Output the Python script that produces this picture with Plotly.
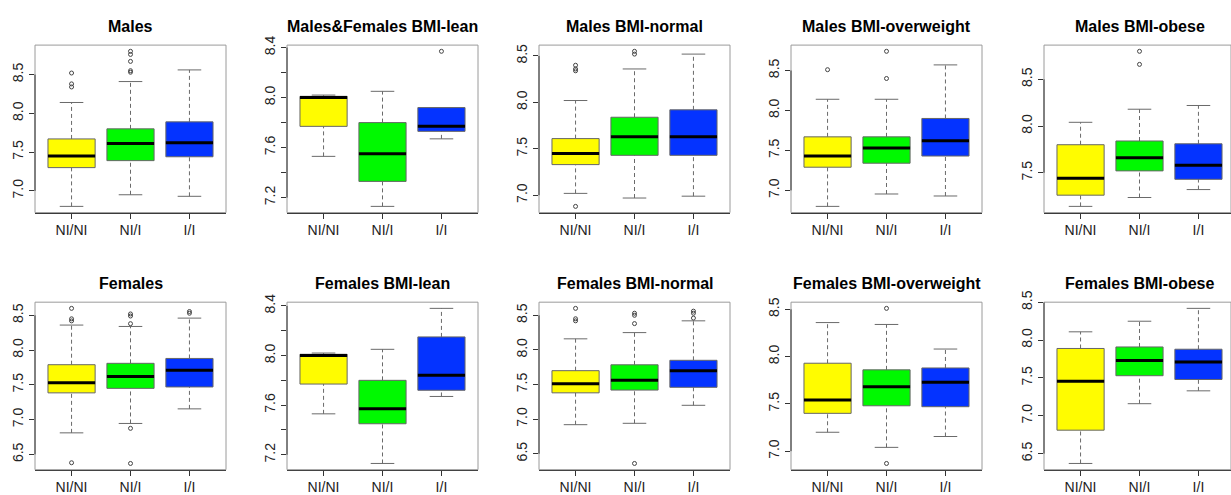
import math
import plotly.graph_objects as go

CATEGORIES = ["NI/NI", "NI/I", "I/I"]
TITLES = ["Males", "Males&Females BMI-lean", "Males BMI-normal", "Males BMI-overweight",
          "Males BMI-obese", "Females", "Females BMI-lean", "Females BMI-normal",
          "Females BMI-overweight", "Females BMI-obese"]

# each row: [lower whisker, Q1, median, Q3, upper whisker] for NI/NI, NI/I, I/I
MALES_BOX = [[6.80, 7.30, 7.45, 7.67, 8.14], [6.95, 7.39, 7.61, 7.80, 8.41], [6.93, 7.44, 7.62, 7.89, 8.56]]
MALES_OUT = [[8.52, 8.38, 8.34], [8.80, 8.76, 8.67, 8.55, 8.53], []]
MF_LEAN_BOX = [[7.53, 7.77, 8.00, 8.01, 8.02], [7.13, 7.33, 7.55, 7.80, 8.05], [7.67, 7.73, 7.77, 7.92, 7.92]]
MF_LEAN_OUT = [[], [], [8.37]]
M_NORMAL_BOX = [[7.02, 7.33, 7.45, 7.61, 8.02], [6.97, 7.43, 7.63, 7.84, 8.36], [6.99, 7.43, 7.63, 7.92, 8.52]]
M_NORMAL_OUT = [[6.88, 8.40, 8.36, 8.34], [8.55, 8.52], []]
M_OVER_BOX = [[6.80, 7.29, 7.43, 7.67, 8.14], [6.955, 7.34, 7.53, 7.67, 8.14], [6.93, 7.43, 7.62, 7.90, 8.57]]
M_OVER_OUT = [[8.51], [8.74, 8.40], []]
M_OBESE_BOX = [[7.14, 7.26, 7.44, 7.80, 8.04], [7.235, 7.52, 7.66, 7.84, 8.18], [7.32, 7.43, 7.58, 7.81, 8.22]]
M_OBESE_OUT = [[], [8.80, 8.66], []]
FEMALES_BOX = [[6.81, 7.385, 7.53, 7.79, 8.36], [6.945, 7.45, 7.62, 7.81, 8.34], [7.155, 7.47, 7.71, 7.88, 8.46]]
FEMALES_OUT = [[8.60, 8.45, 8.42, 6.38], [8.52, 8.49, 8.38, 6.875, 6.37], [8.555, 8.53]]
F_LEAN_BOX = [[7.53, 7.77, 8.00, 8.01, 8.02], [7.13, 7.45, 7.57, 7.80, 8.05], [7.67, 7.72, 7.84, 8.15, 8.38]]
F_LEAN_OUT = [[], [], []]
F_NORMAL_BOX = [[6.92, 7.38, 7.51, 7.70, 8.16], [6.94, 7.42, 7.56, 7.785, 8.25], [7.20, 7.46, 7.70, 7.85, 8.42]]
F_NORMAL_OUT = [[8.60, 8.45, 8.42], [8.53, 8.50, 8.38, 6.36], [8.56, 8.53, 8.46]]
F_OVER_BOX = [[7.20, 7.40, 7.54, 7.93, 8.36], [7.04, 7.48, 7.68, 7.86, 8.34], [7.155, 7.47, 7.73, 7.88, 8.08]]
F_OVER_OUT = [[], [8.51, 6.87], []]
F_OBESE_BOX = [[6.37, 6.81, 7.455, 7.89, 8.11], [7.16, 7.53, 7.73, 7.91, 8.25], [7.33, 7.48, 7.71, 7.88, 8.42]]
F_OBESE_OUT = [[], [], []]

PANELS = [
    (MALES_BOX, MALES_OUT), (MF_LEAN_BOX, MF_LEAN_OUT), (M_NORMAL_BOX, M_NORMAL_OUT),
    (M_OVER_BOX, M_OVER_OUT), (M_OBESE_BOX, M_OBESE_OUT), (FEMALES_BOX, FEMALES_OUT),
    (F_LEAN_BOX, F_LEAN_OUT), (F_NORMAL_BOX, F_NORMAL_OUT), (F_OVER_BOX, F_OVER_OUT),
    (F_OBESE_BOX, F_OBESE_OUT),
]

# ---- styling / layout ----
W, H = 1231, 495
COL_LEFT = [35, 287, 539, 791, 1044]
ROW_TOP = [34, 298]
TITLE_Y = [15, 279]
PLOT_W, PLOT_H = 191, 172
TICK_STEP = [0.5, 0.2, 0.5, 0.5, 0.5, 0.5, 0.2, 0.5, 0.5, 0.5]
LABEL_EVERY = [1, 2, 1, 1, 1, 1, 2, 1, 1, 1]
COLORS = ["#FFFC00", "#00F900", "#0433FF"]
FONT = "Liberation Sans, Arial, sans-serif"
BOXW = 0.4
CAPW = 0.2

fig = go.Figure()
shapes = []
annotations = []
layout = {}

for p, (box, out) in enumerate(PANELS):
    n = p + 1
    xa = "x" if n == 1 else f"x{n}"
    ya = "y" if n == 1 else f"y{n}"
    row, col = divmod(p, 5)
    left = COL_LEFT[col]
    right = min(left + PLOT_W, W)
    top = ROW_TOP[row]
    bottom = top + PLOT_H

    for i, (stats, outs) in enumerate(zip(box, out)):
        xc = i + 1
        lo, q1, med, q3, hi = stats
        fig.add_trace(go.Scatter(
            x=[xc, xc, None, xc, xc], y=[lo, q1, None, q3, hi], mode="lines",
            line=dict(color="#6a6a6a", width=1, dash="4px,3px"),
            xaxis=xa, yaxis=ya, showlegend=False, hoverinfo="skip"))
        fig.add_trace(go.Scatter(
            x=[xc - BOXW, xc + BOXW, xc + BOXW, xc - BOXW, xc - BOXW],
            y=[q1, q1, q3, q3, q1], mode="lines", fill="toself",
            fillcolor=COLORS[i], line=dict(color="#666", width=1),
            xaxis=xa, yaxis=ya, showlegend=False, hoverinfo="skip"))
        fig.add_trace(go.Scatter(
            x=[xc - BOXW, xc + BOXW], y=[med, med], mode="lines",
            line=dict(color="black", width=3),
            xaxis=xa, yaxis=ya, showlegend=False, hoverinfo="skip"))
        fig.add_trace(go.Scatter(
            x=[xc - CAPW, xc + CAPW, None, xc - CAPW, xc + CAPW],
            y=[lo, lo, None, hi, hi], mode="lines",
            line=dict(color="#6a6a6a", width=1),
            xaxis=xa, yaxis=ya, showlegend=False, hoverinfo="skip"))
        if outs:
            fig.add_trace(go.Scatter(
                x=[xc] * len(outs), y=outs, mode="markers",
                marker=dict(symbol="circle-open", size=4, color="#444",
                            line=dict(width=1, color="#444")),
                xaxis=xa, yaxis=ya, showlegend=False, hoverinfo="skip"))

    # R-like ranges: data range extended by 4 %
    allv = [v for s in box for v in s] + [v for o in out for v in o]
    vmin, vmax = min(allv), max(allv)
    ext = (vmax - vmin) * 0.04
    ylo, yhi = vmin - ext, vmax + ext
    xlo, xhi = 0.5 - 0.12, 3.5 + 0.12
    xhi_vis = xlo + (xhi - xlo) * (right - left) / PLOT_W

    step = TICK_STEP[p]
    t0 = math.ceil(ylo / step - 1e-9)
    t1 = math.floor(yhi / step + 1e-9)
    tickvals = [round(k * step, 4) for k in range(t0, t1 + 1)]
    ticktext = [f"{v:.1f}" if j % LABEL_EVERY[p] == 0 else "" for j, v in enumerate(tickvals)]

    layout["xaxis" if n == 1 else f"xaxis{n}"] = dict(
        domain=[left / W, right / W], range=[xlo, xhi_vis], anchor=ya,
        tickvals=[1, 2, 3], ticktext=CATEGORIES, ticks="outside", ticklen=5,
        tickcolor="#333", tickwidth=1, showline=True, linecolor="#333", linewidth=1,
        showgrid=False, zeroline=False, fixedrange=True,
        tickfont=dict(family=FONT, size=14, color="#222"))
    layout["yaxis" if n == 1 else f"yaxis{n}"] = dict(
        domain=[1 - bottom / H, 1 - top / H], range=[ylo, yhi], anchor=xa,
        tickvals=tickvals, ticktext=ticktext, tickangle=-90, ticks="outside",
        ticklen=5, tickcolor="#333", tickwidth=1, showline=False,
        showgrid=False, zeroline=False, fixedrange=True,
        tickfont=dict(family=FONT, size=14, color="#222"))

    # grey frame
    shapes.append(dict(type="rect", xref=f"{xa} domain", yref=f"{ya} domain",
                       x0=0, x1=1, y0=0, y1=1, line=dict(color="#9a9a9a", width=1),
                       layer="above"))
    # dark left axis line spanning tick range (R style)
    shapes.append(dict(type="line", xref=f"{xa} domain", yref=ya,
                       x0=0, x1=0, y0=tickvals[0], y1=tickvals[-1],
                       line=dict(color="#333", width=1), layer="above"))

    annotations.append(dict(
        text=f"<b>{TITLES[p]}</b>", xref="paper", yref="paper",
        x=(left + PLOT_W / 2) / W, y=1 - TITLE_Y[row] / H,
        xanchor="center", yanchor="middle", showarrow=False,
        font=dict(family=FONT, size=16, color="black")))

fig.update_layout(
    width=W, height=H, margin=dict(l=0, r=0, t=0, b=0),
    paper_bgcolor="white", plot_bgcolor="white", showlegend=False,
    shapes=shapes, annotations=annotations, **layout)

fig.write_html("out.html", config={"displayModeBar": False})
